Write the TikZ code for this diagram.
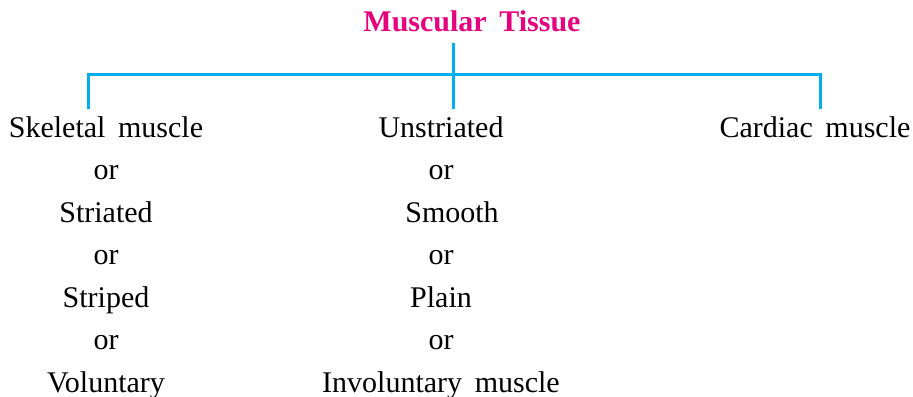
\documentclass[tikz,border=0pt]{standalone}
\usepackage{fontspec}
\setmainfont{Liberation Serif}
\usetikzlibrary{positioning}
\definecolor{TitleMagenta}{HTML}{E5007D}
\definecolor{LinkCyan}{HTML}{00AEEF}
\newcommand{\wgap}{\hspace{0.42em}}

\begin{document}
\begin{tikzpicture}[
  x=0.5pt, y=-0.5pt,
  % heading
  ttl/.style={text=TitleMagenta, font=\fontsize{15}{18}\selectfont\bfseries,
              anchor=base, inner sep=0pt},
  % list entry
  item/.style={font=\fontsize{15}{18}\selectfont, anchor=base, inner sep=0pt},
  % tree line
  link/.style={draw=LinkCyan, line width=1.5pt},
]
\useasboundingbox (0,0) rectangle (913,396);

% ── Column centres ───────────────────────────────────────────────────────
\def\cA{106}   % skeletal
\def\cB{441}   % smooth
\def\cC{815}   % cardiac

%% ── Heading ──────────────────────────────────────────────────────────────
\node[ttl] (tissue) at (472,31) {Muscular\wgap Tissue};

%% ── Left column ──────────────────────────────────────────────────────────
\node[item] (skel)  at (\cA,137)   {Skeletal\wgap muscle};
\node[item] (orA1)  at (\cA,179.5) {or};
\node[item] (stri)  at (\cA,222)   {Striated};
\node[item] (orA2)  at (\cA,264.5) {or};
\node[item] (strp)  at (\cA,307)   {Striped};
\node[item] (orA3)  at (\cA,349.5) {or};
\node[item] (volu)  at (\cA,392)   {Voluntary};

%% ── Middle column ────────────────────────────────────────────────────────
\node[item] (unst)  at (\cB,137)   {Unstriated};
\node[item] (orB1)  at (\cB,179.5) {or};
\node[item] (smoo)  at (452,222)   {Smooth};
\node[item] (orB2)  at (\cB,264.5) {or};
\node[item] (plai)  at (\cB,307)   {Plain};
\node[item] (orB3)  at (\cB,349.5) {or};
\node[item] (invo)  at (\cB,392)   {Involuntary\wgap muscle};

%% ── Right column ─────────────────────────────────────────────────────────
\node[item] (card)  at (\cC,137)   {Cardiac\wgap muscle};

%% ── Tree lines ───────────────────────────────────────────────────────────
\coordinate (hub) at (453,74);
\coordinate (lft) at (88,74);
\coordinate (rgt) at (820,74);
\draw[link, shorten <=3.3pt, shorten >=3.3pt]
  (lft |- skel.north) -- (lft) -- (rgt) -- (rgt |- card.north);
\draw[link, shorten <=5.5pt, shorten >=3.3pt]
  (tissue.south -| hub) -- (hub |- unst.north);

\end{tikzpicture}
\end{document}
